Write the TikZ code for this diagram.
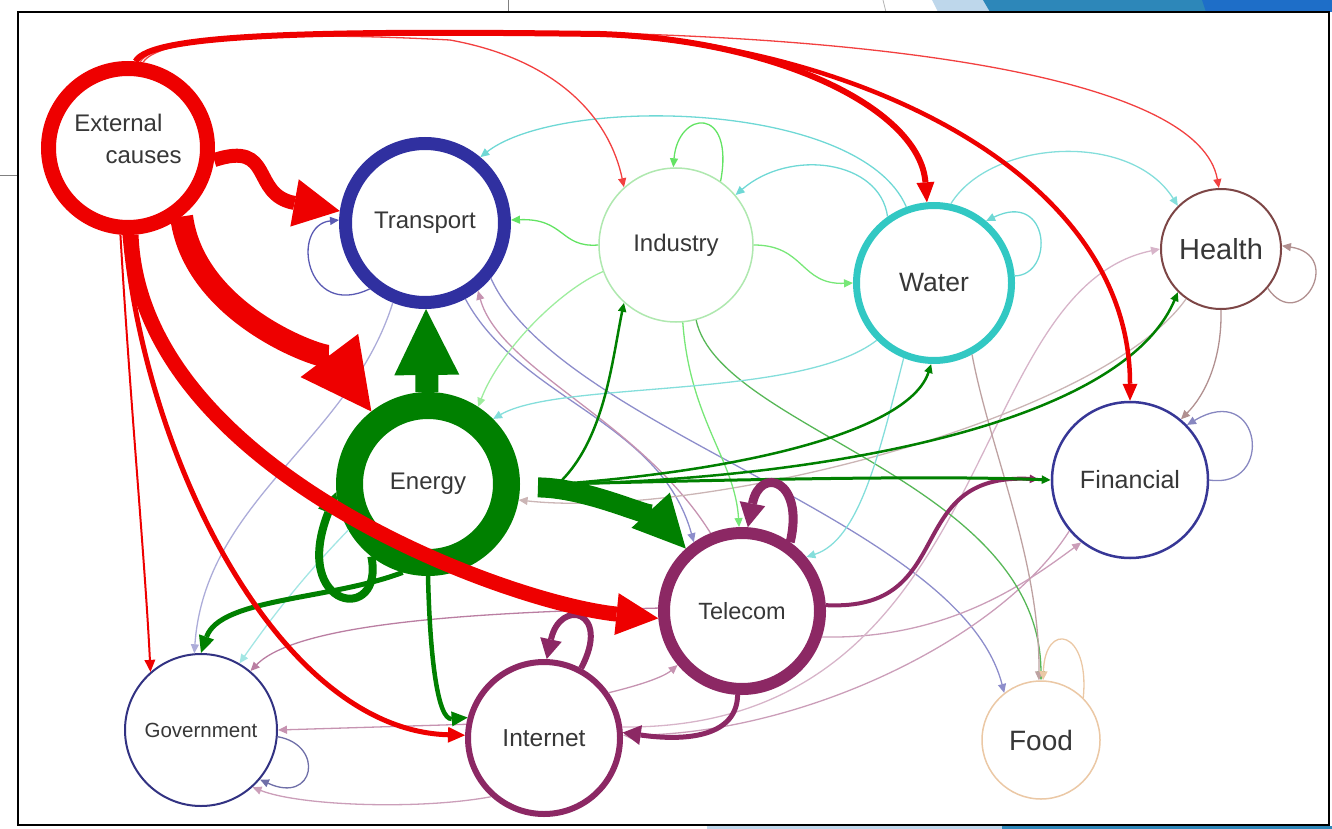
\documentclass[tikz,border=0pt]{standalone}
\usepackage{fontspec}
\setmainfont{Liberation Sans}
\usepackage{tikz}
\usetikzlibrary{arrows.meta}

\definecolor{extred}{RGB}{238,0,0}
\definecolor{transblue}{RGB}{48,48,160}
\definecolor{indring}{RGB}{175,232,175}
\definecolor{indgreen}{RGB}{60,220,60}
\definecolor{watcyan}{RGB}{50,200,195}
\definecolor{heabrown}{RGB}{125,70,70}
\definecolor{enegreen}{RGB}{0,128,0}
\definecolor{finnavy}{RGB}{55,55,150}
\definecolor{telpurple}{RGB}{140,40,100}
\definecolor{govnavy}{RGB}{50,50,130}
\definecolor{foodorange}{RGB}{235,200,165}
\definecolor{txtgray}{RGB}{55,55,55}
\definecolor{slidelight}{RGB}{190,215,235}
\definecolor{slidemid}{RGB}{45,135,185}
\definecolor{slidedark}{RGB}{30,110,200}

\newcommand{\lblsize}[1]{\fontsize{#1}{#1}\selectfont}

\begin{document}
\begin{tikzpicture}[x=1pt, y=-1pt,
    sector/.style={circle, draw, fill=white, inner sep=0pt, text=txtgray},
    link/.style={line width=1.3pt, -{Triangle[length=9pt,width=8pt]}},
    fat/.style 2 args={-{Triangle[length=#1,width=#2,line width=0pt]}}]
        \useasboundingbox (0,0) rectangle (1332,829);
        % bits of the slide round the frame
        \fill[slidelight] (932,0) -- (1332,0) -- (1332,12) -- (938,12) -- cycle;
        \fill[slidemid] (983,0) -- (1332,0) -- (1332,12) -- (990,12) -- cycle;
        \fill[slidedark] (1202,0) -- (1332,0) -- (1332,12) -- (1206,12) -- cycle;
        \fill[slidelight] (707,826) rectangle (1332,829);
        \fill[slidemid] (1002,826) rectangle (1332,829);
        \draw[gray, line width=0.8pt] (0,175) -- (18,175);
        \draw[gray, line width=0.8pt] (508,0) -- (508,12);
        \draw[gray!60, line width=0.8pt] (883,0) -- (886,12);
        \draw[line width=2.5pt] (18,12) rectangle (1329,825);

        \node [sector, draw=extred, line width=15pt, minimum size=159pt, font=\lblsize{24}, align=left] (ext) at (128,148) {External\\[8pt]\hspace*{1.3em}causes\\[-6pt]\mbox{}};
        \node [sector, draw=transblue, line width=13pt, minimum size=159pt, font=\lblsize{24}] (trans) at (425,223) {Transport};
        \node [sector, draw=indring, line width=1.5pt, minimum size=154pt, font=\lblsize{24}] (ind) at (676,245) {Industry};
        \node [sector, draw=watcyan, line width=7pt, minimum size=155pt, font=\lblsize{26.5}] (wat) at (934,283) {Water};
        \node [sector, draw=heabrown, line width=2pt, minimum size=120pt, font=\lblsize{29}] (hea) at (1221,249) {Health};
        \node [sector, draw=enegreen, line width=27pt, minimum size=157pt, font=\lblsize{24}] (ene) at (428,484) {Energy};
        \node [sector, draw=finnavy, line width=2.5pt, minimum size=156pt, font=\lblsize{25}] (fin) at (1130,480) {Financial};
        \node [sector, draw=telpurple, line width=12pt, minimum size=156pt, font=\lblsize{23.5}] (tel) at (742,611) {Telecom};
        \node [sector, draw=govnavy, line width=2pt, minimum size=152pt, font=\lblsize{20.5}] (gov) at (201,730) {Government};
        \node [sector, draw=telpurple, line width=6pt, minimum size=152pt, font=\lblsize{24.5}] (int) at (544,738) {Internet};
        \node [sector, draw=foodorange, line width=1.5pt, minimum size=118pt, font=\lblsize{28}] (foo) at (1041,740) {Food};
        \coordinate (hub) at (558,484);

        % pale links
        \draw[link, transblue!80] (trans.-130) .. controls (305,320) and (290,225) .. (trans.178);
        \draw[link, transblue!55] (trans.-62) .. controls (520,400) and (660,420) .. (tel.125);
        \draw[link, transblue!55] (trans.-40) .. controls (560,430) and (960,520) .. (foo.128);
        \draw[link, telpurple!50] (tel.112) .. controls (640,420) and (500,370) .. (trans.-52);
        \draw[link, transblue!40] (trans.-112) .. controls (350,440) and (205,500) .. (gov.95);
        \draw[link, watcyan!45] (ene.-150) .. controls (300,580) and (270,620) .. (gov.60);
        \draw[link, telpurple!60] (tel.178) .. controls (500,612) and (300,620) .. (gov.50);
        \draw[link, telpurple!50] (int.170) -- (gov.0);
        \draw[link, telpurple!45] (int.228) .. controls (420,810) and (300,806) .. (gov.-48);
        \draw[link, govnavy!70] (gov.-5) .. controls (325,745) and (315,805) .. (gov.-40);
        \draw[link, telpurple!50] (int.35) .. controls (620,690) and (660,680) .. (tel.-140);
        \draw[link, telpurple!45] (fin.-140) .. controls (1000,640) and (800,735) .. (int.2);
        \draw[link, telpurple!45] (tel.-18) .. controls (950,640) and (1030,580) .. (fin.-128);
        \draw[link, telpurple!35] (int.8) .. controls (1000,730) and (960,290) .. (hea.180);
        \draw[link, heabrown!40] (hea.-125) .. controls (1100,420) and (700,520) .. (ene.-10);
        \draw[link, indgreen!80] (ind.180) .. controls (560,248) and (565,218) .. (trans.2);
        \draw[link, indgreen!80] (ind.55) .. controls (735,105) and (678,110) .. (ind.92);
        \draw[link, indgreen!70] (ind.0) .. controls (805,245) and (800,285) .. (wat.180);
        \draw[link, indgreen!50] (ind.-160) .. controls (560,290) and (500,350) .. (ene.57);
        \draw[link, indgreen!70] (ind.-85) .. controls (690,420) and (735,460) .. (tel.92);
        \draw[link, indgreen!60!gray] (ind.-75) .. controls (720,430) and (1040,480) .. (foo.90);
        \draw[link, watcyan!70] (wat.110) .. controls (860,100) and (560,95) .. (trans.50);
        \draw[link, watcyan!70] (wat.125) .. controls (880,160) and (790,148) .. (ind.40);
        \draw[link, watcyan!70] (wat.5) .. controls (1055,275) and (1050,190) .. (wat.50);
        \draw[link, watcyan!60] (wat.78) .. controls (990,140) and (1130,130) .. (hea.135);
        \draw[link, watcyan!60] (wat.-135) .. controls (800,400) and (560,380) .. (ene.45);
        \draw[link, watcyan!60] (wat.-112) .. controls (880,450) and (860,540) .. (tel.40);
        \draw[link, heabrown!50] (wat.-62) .. controls (990,450) and (1040,560) .. (foo.92);
        \draw[link, foodorange] (foo.45) .. controls (1090,630) and (1045,620) .. (foo.88);
        \draw[link, heabrown!60] (hea.-40) .. controls (1300,335) and (1345,255) .. (hea.3);
        \draw[link, heabrown!60] (hea.-90) .. controls (1222,360) and (1205,395) .. (fin.50);
        \draw[link, finnavy!60] (fin.0) .. controls (1275,490) and (1262,380) .. (fin.44);
        \draw[link, extred!75] (ext.80) .. controls (160,35) and (300,32) .. (450,40) .. controls (560,60) and (610,120) .. (ind.132);
        \draw[link, extred!75] (ext.82) .. controls (160,33) and (300,30) .. (600,33) .. controls (900,40) and (1200,80) .. (hea.92);

        % energy links
        \draw[link, enegreen, line width=2.5pt] (hub) .. controls (605,440) and (612,360) .. (ind.-132);
        \draw[link, enegreen, line width=2.5pt] (hub) .. controls (750,470) and (910,430) .. (wat.-92);
        \draw[link, enegreen, line width=2.5pt] (hub) .. controls (800,480) and (1120,430) .. (hea.-135);
        \draw[link, telpurple, line width=4pt, shorten >=12pt] (tel.4) .. controls (960,612) and (900,472) .. (fin.180);
        \draw[link, enegreen, line width=3pt] (hub) .. controls (800,478) and (950,476) .. (fin.180);
        \draw[enegreen, line width=5pt, fat={17pt}{16pt}] (ene.-106) .. controls (330,600) and (220,598) .. (gov.90);
        \draw[enegreen, line width=4.5pt, fat={16pt}{15pt}] (ene.-90) .. controls (430,660) and (438,720) .. (int.165);
        \draw[enegreen, line width=8pt, fat={22pt}{22pt}] (ene.-128) .. controls (385,625) and (290,610) .. (ene.-175);

        % telecom and internet
        \draw[telpurple, line width=9pt, fat={24pt}{26pt}] (tel.55) .. controls (805,480) and (760,465) .. (tel.86);
        \draw[telpurple, line width=6pt, fat={20pt}{22pt}] (int.62) .. controls (612,610) and (560,598) .. (int.88);
        \draw[telpurple, line width=5pt, fat={18pt}{20pt}] (tel.-93) .. controls (737,735) and (690,742) .. (int.4);

        % external causes
        \draw[extred, line width=2pt, fat={12pt}{11pt}] (ext.-95) .. controls (130,400) and (145,560) .. (gov.131);
        \draw[extred, line width=5pt, fat={17pt}{16pt}] (ext.-92) .. controls (145,460) and (280,730) .. (int.178);
        \draw[extred, line width=6pt, fat={20pt}{18pt}] (ext.85) .. controls (150,35) and (300,30) .. (600,34) .. controls (780,40) and (920,110) .. (wat.95);
        \draw[extred, line width=4.5pt, fat={17pt}{15pt}] (ext.85) .. controls (150,35) and (300,30) .. (600,34) .. controls (850,45) and (1130,170) .. (fin.90);
        \draw[extred, line width=15pt, fat={42pt}{42pt}] (ext.-88) .. controls (140,470) and (508,603) .. (tel.185);
        \draw[extred, line width=14pt, fat={46pt}{48pt}] (ext.-8) .. controls (275,140) and (250,195) .. (trans.172);
        \draw[extred, line width=23pt, fat={70pt}{72pt}] (ext.-52) .. controls (195,320) and (335,363) .. (ene.128);
        \draw[enegreen, line width=23pt, fat={66pt}{65pt}] (ene) -- (trans);
        \draw[enegreen, line width=20pt, fat={52pt}{52pt}, shorten <=18pt] (ene.-2) .. controls (595,488) and (666,527) .. (tel.132);
    \end{tikzpicture}
\end{document}
